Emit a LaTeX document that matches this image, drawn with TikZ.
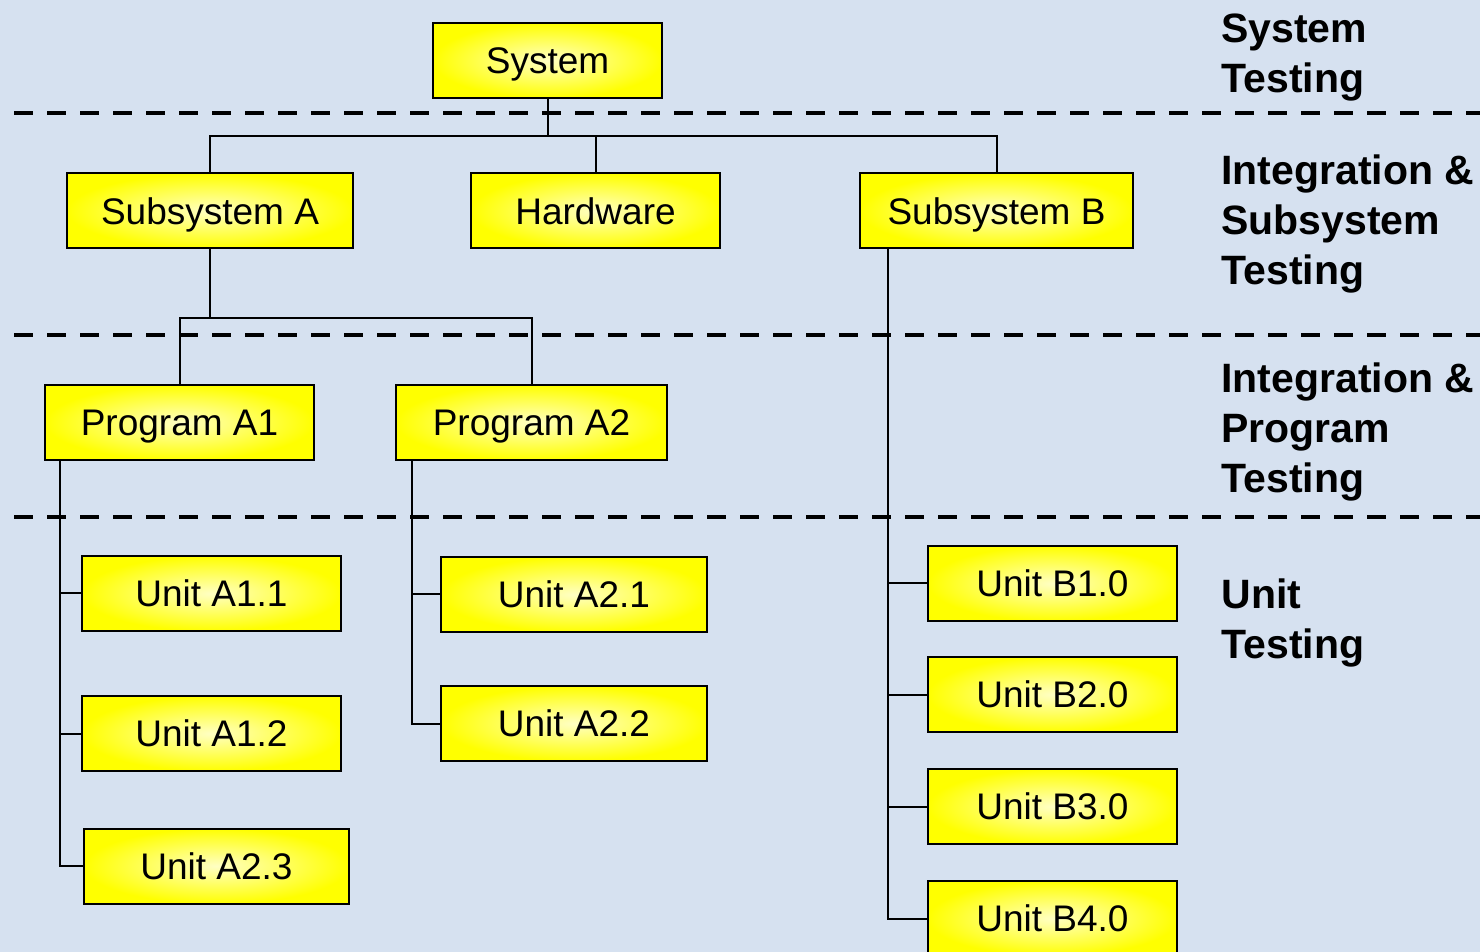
\documentclass[tikz,border=0pt]{standalone}
\usepackage{fontspec}
\setmainfont{Liberation Sans}
\usepackage{xcolor}
\usepackage{tikz}
\usetikzlibrary{positioning}
\definecolor{PaperBlue}{RGB}{214,225,240}
\definecolor{BoxYellow}{RGB}{255,255,0}
\definecolor{BoxGlow}{RGB}{255,255,195}

\begin{document}
\begin{tikzpicture}[
    x=0.5pt, y=-0.5pt,
    box/.style={rectangle, draw=black, line width=1pt, inner sep=0pt,
                shading=radial, inner color=BoxGlow, outer color=BoxYellow,
                minimum height=37.5pt, text height=13.3pt, text depth=0pt,
                font=\fontsize{18.5}{22}\selectfont},
    level/.style={anchor=west, align=left, inner sep=0pt,
                  font=\fontsize{20.5}{25}\selectfont\bfseries},
    link/.style={line width=1pt, black},
    sep/.style={line width=2.2pt, black, dash pattern=on 9.5pt off 7pt}
]
\fill[PaperBlue] (0,0) rectangle (1480,952);
\useasboundingbox (0,0) rectangle (1480,952);

% level separators
\draw[sep] (14,113) -- (1480,113);
\draw[sep] (14,335) -- (1480,335);
\draw[sep] (14,517) -- (1480,517);

\node[box, minimum width=114.5pt] (sys)    at (547.5,60.5) {System};
\node[box, minimum width=143pt]   (subA)   at (210,211)    {Subsystem A};
\node[box, minimum width=124.5pt] (hw)     at (595.5,211)  {Hardware};
\node[box, minimum width=136.5pt] (subB)   at (996.5,211)  {Subsystem B};
\node[box, minimum width=134.5pt] (progA1) at (179.5,422.5) {Program A1};
\node[box, minimum width=135.5pt] (progA2) at (531.5,422.5) {Program A2};
\node[box, minimum width=129.5pt] (ua11)   at (211.5,593.5) {Unit A1.1};
\node[box, minimum width=129.5pt] (ua12)   at (211.5,733.5) {Unit A1.2};
\node[box, minimum width=132.5pt] (ua23)   at (216.5,866)   {Unit A2.3};
\node[box, minimum width=133pt]   (ua21)   at (574,594.5)  {Unit A2.1};
\node[box, minimum width=133pt]   (ua22)   at (574,723.5)  {Unit A2.2};
\node[box, minimum width=124.5pt] (ub1)    at (1052.5,583.5) {Unit B1.0};
\node[box, minimum width=124.5pt] (ub2)    at (1052.5,694.5) {Unit B2.0};
\node[box, minimum width=124.5pt] (ub3)    at (1052.5,806.5) {Unit B3.0};
\node[box, minimum width=124.5pt] (ub4)    at (1052.5,918.5) {Unit B4.0};

\node[level] (lsys)  at (1221,57.5) {System\\Testing};
\node[level] (lsub)  at (1221,224)  {Integration \&\\Subsystem\\Testing};
\node[level] (lprog) at (1221,432)  {Integration \&\\Program\\Testing};
\node[level] (lunit) at (1221,623)  {Unit\\Testing};

% tree
\coordinate (sysbus) at (547.5,136);
\draw[link] (sys) -- (sysbus);
\draw[link] (sysbus) -| (subA.north);
\draw[link] (sysbus) -| (hw.north);
\draw[link] (sysbus) -| (subB.north);

\coordinate (abus) at (210,318);
\draw[link] (subA) -- (abus);
\draw[link] (abus) -| (progA1.north);
\draw[link] (abus) -| (progA2.north);

\coordinate (a1spine) at (60,460);
\draw[link] (a1spine) |- (ua11.west);
\draw[link] (a1spine) |- (ua12.west);
\draw[link] (a1spine) |- (ua23.west);

\coordinate (a2spine) at (412,460);
\draw[link] (a2spine) |- (ua21.west);
\draw[link] (a2spine) |- (ua22.west);

\coordinate (bspine) at (888,248);
\draw[link] (bspine) |- (ub1.west);
\draw[link] (bspine) |- (ub2.west);
\draw[link] (bspine) |- (ub3.west);
\draw[link] (bspine) |- (ub4.west);
\end{tikzpicture}
\end{document}
